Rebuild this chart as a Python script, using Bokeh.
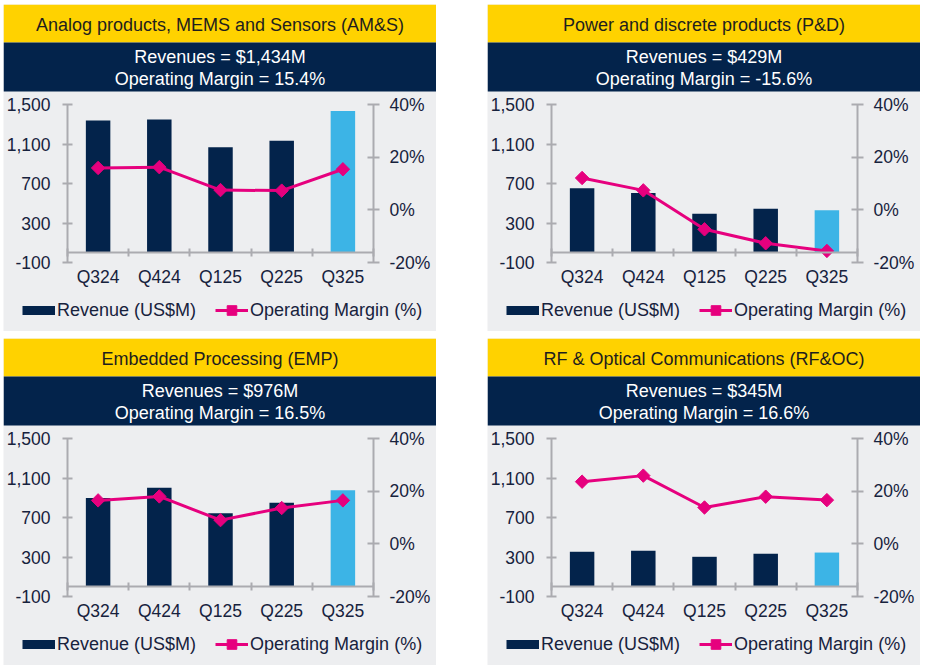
import math
from bokeh.plotting import figure
from bokeh.layouts import row, column
from bokeh.models import (Range1d, LinearAxis, FixedTicker, NumeralTickFormatter,
                          PrintfTickFormatter, CustomJSTickFormatter, Legend, LegendItem,
                          ColumnDataSource)
from bokeh.core.properties import value
from bokeh.embed import file_html
from bokeh.resources import INLINE

# ---------------- data ----------------
quarters = ["Q324", "Q424", "Q125", "Q225", "Q325"]

ams_revenue = [1337, 1347, 1067, 1134, 1434]
ams_margin = [15.9, 16.2, 7.5, 7.3, 15.4]

pd_revenue = [651, 603, 394, 444, 429]
pd_margin = [12.1, 7.4, -7.4, -12.7, -15.6]

emp_revenue = [898, 1002, 742, 850, 976]
emp_margin = [16.5, 18.0, 9.0, 13.6, 16.5]

rfoc_revenue = [353, 363, 302, 333, 345]
rfoc_margin = [23.6, 25.9, 13.8, 17.9, 16.6]

titles = ["Analog products, MEMS and Sensors (AM&S)",
          "Power and discrete products (P&D)",
          "Embedded Processing (EMP)",
          "RF & Optical Communications (RF&OC)"]
revenue_lines = ["Revenues = $1,434M", "Revenues = $429M",
                 "Revenues = $976M", "Revenues = $345M"]
margin_lines = ["Operating Margin = 15.4%", "Operating Margin = -15.6%",
                "Operating Margin = 16.5%", "Operating Margin = 16.6%"]

revenue_ticks = [-100, 300, 700, 1100, 1500]
margin_ticks = [-20, 0, 20, 40]
legend_labels = ["Revenue (US$M)", "Operating Margin (%)"]

# ---------------- style / layout (pixels) ----------------
FONT = "Liberation Sans"
YELLOW = "#FFD200"
NAVY = "#03234B"
LIGHTBLUE = "#3CB4E6"
MAGENTA = "#E6007E"
GREY = "#EDEEF0"
AXIS = "#ABABB0"
TXT = "#17223D"

PANEL_W = 433
PANEL_H = 327
HEAD_Y = 38          # yellow band height
HEAD_N = 49          # navy band height
FRAME_TOP = HEAD_Y + HEAD_N + 13   # px from top where the 1,500 tick sits
FRAME_H = 158                      # px from 1,500 to -100
AX_LEFT = 64                       # px from left to left axis
AX_W = 306                         # px between the two value axes
LEG_ROW = 24


def panel(title, line1, line2, revenue, margin):
    n = len(quarters)
    r0, r1 = revenue_ticks[0], revenue_ticks[-1]
    m0, m1 = margin_ticks[0], margin_ticks[-1]
    ky = (r1 - r0) / FRAME_H
    km = (m1 - m0) / FRAME_H
    kx = n / AX_W
    below = PANEL_H - FRAME_TOP - FRAME_H
    y_end = r1 + FRAME_TOP * ky
    y_start = r0 - below * ky
    x_start = -AX_LEFT * kx
    x_end = x_start + PANEL_W * kx

    def ypx(px):
        return y_end - px * ky

    xs = [i + 0.5 for i in range(n)]
    colors = [NAVY] * (n - 1) + [LIGHTBLUE]
    src = ColumnDataSource(dict(x=xs, rev=revenue, mar=margin, color=colors))

    p = figure(width=PANEL_W, height=PANEL_H,
               x_range=Range1d(x_start, x_end), y_range=Range1d(y_start, y_end),
               output_backend="svg", toolbar_location=None, min_border=0,
               x_axis_location=None, y_axis_location=None,
               background_fill_color=GREY, border_fill_color=GREY,
               outline_line_color=None)
    p.grid.visible = False
    p.extra_y_ranges = {"m": Range1d(m0 - below * km, m1 + FRAME_TOP * km)}

    # header bands
    p.quad(left=x_start, right=x_end, bottom=ypx(HEAD_Y), top=y_end,
           fill_color=YELLOW, line_color=None)
    p.quad(left=x_start, right=x_end, bottom=ypx(HEAD_Y + HEAD_N), top=ypx(HEAD_Y),
           fill_color=NAVY, line_color=None)
    xc = (x_start + x_end) / 2
    p.text(x=[xc], y=[ypx(HEAD_Y / 2 + 1)], text=[title], text_align="center",
           text_baseline="middle", text_font=value(FONT), text_font_size="18px",
           text_color="#1E1E1E")
    p.text(x=[xc, xc], y=[ypx(HEAD_Y + 14), ypx(HEAD_Y + 36)], text=[line1, line2],
           text_align="center", text_baseline="middle", text_font=value(FONT),
           text_font_size="18px", text_color="white")

    common = dict(axis_line_color=AXIS, axis_line_width=2,
                  major_tick_line_color=AXIS, major_tick_line_width=2,
                  minor_tick_line_color=None,
                  major_label_text_font=FONT, major_label_text_font_size="17.5px",
                  major_label_text_color=TXT)

    left = LinearAxis(ticker=FixedTicker(ticks=revenue_ticks), fixed_location=0,
                      bounds=(r0, r1),
                      formatter=NumeralTickFormatter(format="0,0"),
                      major_tick_in=5, major_tick_out=5, major_label_standoff=12, **common)
    p.add_layout(left, "left")

    right = LinearAxis(y_range_name="m", ticker=FixedTicker(ticks=margin_ticks),
                       fixed_location=n, bounds=(m0, m1),
                       formatter=PrintfTickFormatter(format="%d%%"),
                       major_tick_in=6, major_tick_out=6, major_label_standoff=10, **common)
    p.add_layout(right, "right")

    # category axis line at zero with boundary ticks
    cat = LinearAxis(ticker=FixedTicker(ticks=list(range(n + 1))), fixed_location=0,
                     bounds=(0, n),
                     formatter=CustomJSTickFormatter(code="return '';"),
                     major_tick_in=4, major_tick_out=4, major_label_standoff=0,
                     axis_line_color=AXIS, axis_line_width=2,
                     major_tick_line_color=AXIS, major_tick_line_width=2,
                     minor_tick_line_color=None)
    p.add_layout(cat, "below")

    labels = LinearAxis(ticker=FixedTicker(ticks=xs), fixed_location=r0,
                        formatter=CustomJSTickFormatter(args=dict(labels=quarters),
                                                        code="return labels[Math.floor(tick)];"),
                        axis_line_color=None, major_tick_line_color=None,
                        minor_tick_line_color=None, major_tick_in=0, major_tick_out=0,
                        major_label_standoff=4, major_label_text_font=FONT,
                        major_label_text_font_size="17.5px", major_label_text_color=TXT)
    p.add_layout(labels, "below")

    p.vbar(x="x", top="rev", bottom=0, width=0.4, fill_color="color", line_color=None,
           source=src)
    ln = p.line(x="x", y="mar", y_range_name="m", line_color=MAGENTA, line_width=3,
                source=src)
    mk = p.scatter(x="x", y="mar", y_range_name="m", marker="square", size=9.5,
                   angle=math.pi / 4, fill_color=MAGENTA, line_color=MAGENTA, source=src)
    # legend proxy for the bars (draws nothing in the plot)
    proxy = p.line(x=[float("nan")], y=[float("nan")], line_color=NAVY, line_width=9)

    legend = Legend(items=[LegendItem(label=legend_labels[0], renderers=[proxy]),
                           LegendItem(label=legend_labels[1], renderers=[ln, mk])],
                    orientation="horizontal", location=(19, 21 - LEG_ROW / 2),
                    glyph_width=33, glyph_height=LEG_ROW, label_height=LEG_ROW,
                    label_standoff=2, spacing=19, padding=0, margin=0,
                    background_fill_alpha=0, border_line_color=None,
                    label_text_font=FONT, label_text_font_size="18px",
                    label_text_color=TXT)
    p.add_layout(legend, "center")
    return p


revs = [ams_revenue, pd_revenue, emp_revenue, rfoc_revenue]
mars = [ams_margin, pd_margin, emp_margin, rfoc_margin]
panels = [panel(titles[i], revenue_lines[i], margin_lines[i], revs[i], mars[i])
          for i in range(4)]

layout = column(row(panels[0], panels[1], spacing=51),
                row(panels[2], panels[3], spacing=51), spacing=7,
                margin=(4, 0, 0, 3))

open("out.html", "w").write(file_html(layout, INLINE))
